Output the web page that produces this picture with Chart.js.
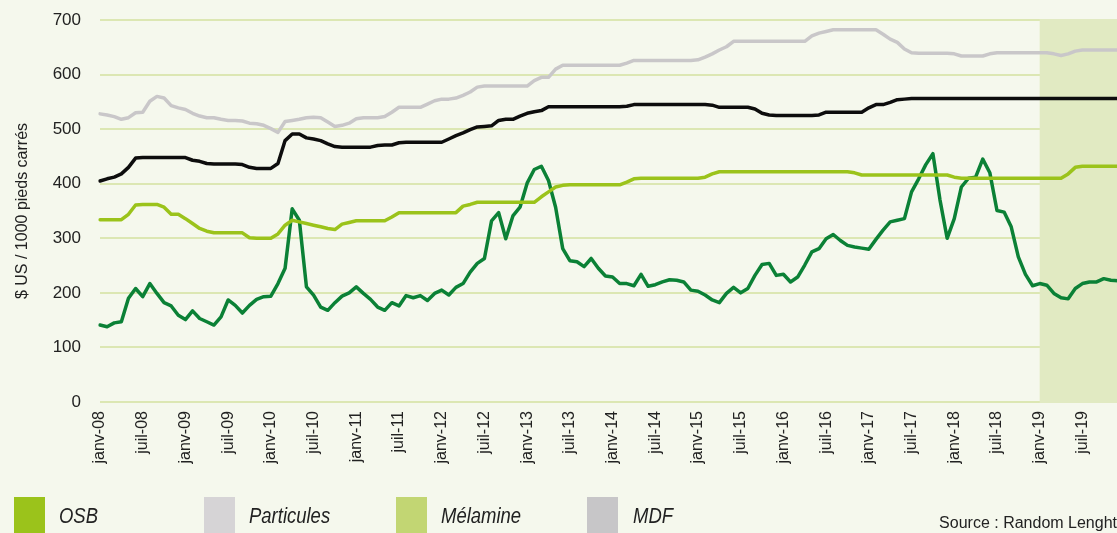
<!DOCTYPE html>
<html>
<head>
<meta charset="utf-8">
<script src="https://cdn.jsdelivr.net/npm/chart.js@4.4.1/dist/chart.umd.min.js"></script>
<style>
html,body{margin:0;padding:0;background:#f5f8ed;overflow:hidden;width:1117px;height:533px;}
#wrap{position:absolute;left:0;top:0;width:1118px;height:533px;}
.sq{position:absolute;top:497px;width:31px;height:40px;}
.lt{position:absolute;top:503px;font:italic 22px "Liberation Sans Narrow","Liberation Sans",Roboto,sans-serif;color:#222;white-space:nowrap;transform:scaleX(0.84);transform-origin:0 50%;}
#src{position:absolute;right:0;top:514px;font:16px "Liberation Sans",Roboto,sans-serif;color:#222;white-space:nowrap;}
</style>
</head>
<body>
<div id="wrap"><canvas id="c" width="1118" height="533"></canvas></div>
<div class="sq" style="left:14px;background:#9bc31b"></div><div class="lt" style="left:59px">OSB</div>
<div class="sq" style="left:204px;background:#d6d4d6"></div><div class="lt" style="left:249px">Particules</div>
<div class="sq" style="left:396px;background:#c2d673"></div><div class="lt" style="left:441px">Mélamine</div>
<div class="sq" style="left:587px;background:#c7c6c8"></div><div class="lt" style="left:633px">MDF</div>
<div id="src">Source : Random Lenght</div>
<script>
const monthNames = ["janv","févr","mars","avr","mai","juin","juil","août","sept","oct","nov","déc"];
const years = ["08","09","10","11","12","13","14","15","16","17","18","19"];
const categories = [];
years.forEach(y => monthNames.forEach(m => categories.push(m + "-" + y)));

const particules = [528,526,523,518,521,530,531,551,560,557,543,539,536,529,524,521,521,518,516,516,515,511,510,507,
501,494,514,516,518,521,522,521,513,505,507,511,519,521,521,521,523,531,540,540,540,540,546,552,
555,555,557,562,568,577,579,579,579,579,579,579,579,589,595,595,610,617,617,617,617,617,617,617,617,617,
621,626,626,626,626,626,626,626,626,626,627,632,638,645,651,661,
661,661,661,661,661,661,661,661,661,661,671,676,679,682,682,682,682,682,682,682,
674,665,659,647,640,639,639,639,639,639,638,634,634,634,634,638,
640,640,640,640,640,640,640,640,638,635,638,643,645,645,645,645,645,645];

const mdf = [405,409,412,418,430,447,448,448,448,448,448,448,448,443,441,437,436,436,436,436,
435,430,428,428,428,437,479,491,491,484,482,479,473,468,467,467,467,467,467,470,471,471,475,
476,476,476,476,476,476,482,488,493,499,504,505,506,516,518,518,524,529,532,534,
541,541,541,541,541,541,541,541,541,541,541,542,545,545,545,545,545,545,545,545,545,545,545,544,
540,540,540,540,540,537,529,526,525,525,525,525,525,525,526,531,531,531,531,531,531,
539,545,545,549,554,555,556,556,556,556,556,556,556,556,556,556,556,556,556,556,556,556,556,556,
556,556,556,556,556,556,556,556,556,556,556,556];

const melamine = [334,334,334,334,344,361,362,362,362,357,344,344,336,327,318,313,310,310,310,310,310,
301,300,300,300,308,324,333,330,327,324,321,318,316,326,329,332,332,332,332,332,339,
347,347,347,347,347,347,347,347,347,359,362,366,366,366,366,366,366,366,366,366,376,385,394,397,
398,398,398,398,398,398,398,398,403,409,410,410,410,410,410,410,410,410,410,412,418,
422,422,422,422,422,422,422,422,422,422,422,422,422,422,422,422,422,422,422,420,
416,416,416,416,416,416,416,416,416,416,416,416,416,412,
410,410,410,410,410,410,410,410,410,410,410,410,410,410,410,418,430,432,432,432,432,432,432];

const osb = [141,138,145,147,190,208,193,217,199,182,176,159,151,167,153,147,141,156,187,177,163,177,188,193,
194,217,245,354,333,211,196,174,168,182,194,200,211,199,188,174,168,182,176,195,191,195,186,199,
205,196,210,217,238,254,263,332,347,299,341,357,401,426,432,406,357,281,259,257,248,263,245,231,
229,217,217,213,234,212,215,220,224,223,220,205,203,196,187,182,199,210,200,208,232,252,254,232,
234,220,229,251,275,281,299,307,296,287,284,282,280,298,315,330,333,336,385,409,435,455,370,300,
336,394,410,412,445,420,351,348,321,266,234,213,217,214,199,191,189,208,217,220,220,226,223,222];

const yTicks = [0,100,200,300,400,500,600,700];
const shadeStart = "janv-19";

const shadePlugin = {
  id: 'shade',
  beforeDatasetsDraw(chart) {
    const {ctx, scales:{x,y}, chartArea} = chart;
    const x0 = x.getPixelForValue(categories.indexOf(shadeStart));
    ctx.save();
    ctx.fillStyle = '#e1eac2';
    const top = y.getPixelForValue(700), bot = y.getPixelForValue(0);
    ctx.fillRect(x0, top - 1, chartArea.right + 5 - x0, bot - top + 2);
    ctx.restore();
  }
};

const common = {pointRadius:0, borderWidth:3.5, tension:0, borderJoinStyle:'round', borderCapStyle:'round', fill:false};

new Chart(document.getElementById('c'), {
  type: 'line',
  data: {
    labels: categories,
    datasets: [
      {label:'Particules', data: particules, borderColor:'#c9c7c9', ...common},
      {label:'MDF', data: mdf, borderColor:'#0d0d0d', ...common},
      {label:'Mélamine', data: melamine, borderColor:'#9bc31b', ...common},
      {label:'OSB', data: osb, borderColor:'#0b8136', ...common}
    ]
  },
  options: {
    responsive: false,
    animation: false,
    layout: {padding: {top: 20, right: 0, bottom: 41, left: 0}},
    plugins: {legend: {display:false}, tooltip: {enabled:false}},
    scales: {
      x: {
        offset: false,
        grid: {display:false, drawTicks:false},
        border: {display:false},
        afterFit(s) { s.height = 90; s.paddingLeft = 0; s.paddingRight = 0; },
        ticks: {
          autoSkip: false, maxRotation: 90, minRotation: 90, padding: 9,
          color: '#222', font: {family: '"Liberation Sans", Roboto, sans-serif', size: 16},
          callback: (v, i) => (i % 6 === 0 ? categories[i] : '')
        }
      },
      y: {
        min: 0, max: 700,
        afterFit(s) { s.width = 100; s.paddingTop = 0; s.paddingBottom = 0; },
        afterBuildTicks(s) { s.ticks = yTicks.map(v => ({value: v})); },
        grid: {color:'#dce7b3', lineWidth: 2, drawTicks:false},
        border: {display:false},
        ticks: {padding: 19, color:'#222', font: {family: '"Liberation Sans", Roboto, sans-serif', size: 17}},
        title: {display:true, text:'$ US / 1000 pieds carrés', color:'#222', padding: {top:13, bottom:0},
          font: {family: '"Liberation Sans", Roboto, sans-serif', size: 16}}
      }
    }
  },
  plugins: [shadePlugin]
});
</script>
</body>
</html>
